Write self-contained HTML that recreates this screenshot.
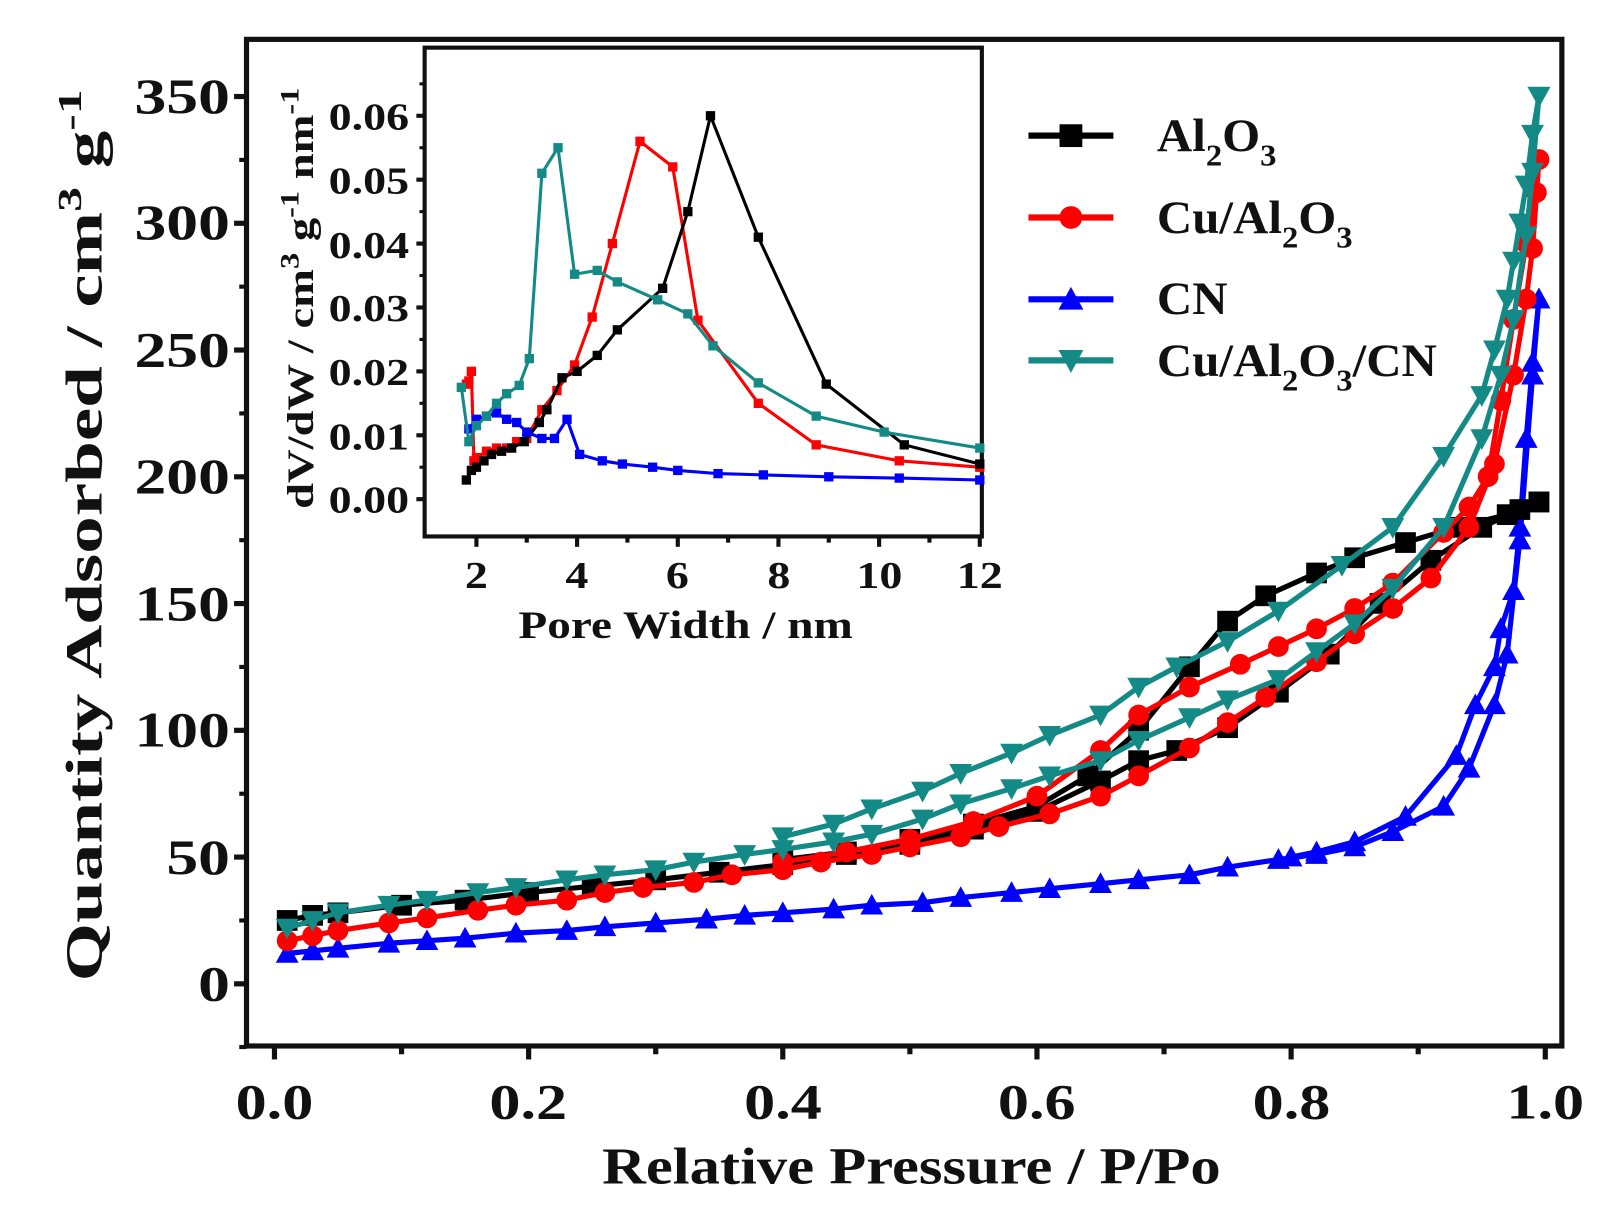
<!DOCTYPE html>
<html><head><meta charset="utf-8"><style>
html,body{margin:0;padding:0;background:#fff}
svg{display:block}
text{font-family:"Liberation Serif",serif;font-weight:bold;fill:#111}
</style></head><body>
<svg id="s" width="1624" height="1221" viewBox="0 0 1568 1179" preserveAspectRatio="none" xmlns="http://www.w3.org/2000/svg">
<rect width="1568" height="1179" fill="#fff"/>
<g id="g"></g>
<rect x="238" y="38" width="1270" height="972" fill="none" stroke="#111" stroke-width="5"/>
<g font-size="48" text-anchor="end">
<text class="k128" x="222" y="966">0</text><text class="k128" x="222" y="844">50</text><text class="k128" x="222" y="721">100</text>
<text class="k128" x="222" y="599">150</text><text class="k128" x="222" y="476">200</text><text class="k128" x="222" y="354">250</text>
<text class="k128" x="222" y="231">300</text><text class="k128" x="222" y="109">350</text>
</g>
<g font-size="48" text-anchor="middle">
<text class="k125" x="265" y="1080">0.0</text><text class="k125" x="510" y="1080">0.2</text><text class="k125" x="756" y="1080">0.4</text>
<text class="k125" x="1001" y="1080">0.6</text><text class="k125" x="1247" y="1080">0.8</text><text class="k125" x="1492" y="1080">1.0</text>
</g>
<text class="k117" x="880" y="1143" font-size="50" text-anchor="middle">Relative Pressure / P/Po</text>
<text class="k145" transform="translate(98,517) rotate(-90)" font-size="50" text-anchor="middle">Quantity Adsorbed / cm<tspan dy="-20" font-size="33">3</tspan><tspan dy="20"> g</tspan><tspan dy="-20" font-size="33">-1</tspan></text>
<g stroke-width="6">
<line x1="993" y1="131" x2="1075" y2="131" stroke="#000"/><rect x="1023" y="120" width="22" height="22" fill="#000"/>
<line x1="993" y1="210" x2="1075" y2="210" stroke="#f00"/><circle cx="1034" cy="210" r="11" fill="#f00"/>
<line x1="993" y1="289" x2="1075" y2="289" stroke="#00f"/><polygon points="1034,277 1046,299 1022,299" fill="#00f"/>
<line x1="993" y1="348" x2="1075" y2="348" stroke="#138a86"/><polygon points="1022,338 1046,338 1034,360" fill="#138a86"/>
</g>
<g font-size="45">
<text class="k105" x="1117" y="146">Al<tspan dy="14" font-size="30">2</tspan><tspan dy="-14">O</tspan><tspan dy="14" font-size="30">3</tspan></text>
<text class="k105" x="1117" y="225">Cu/Al<tspan dy="14" font-size="30">2</tspan><tspan dy="-14">O</tspan><tspan dy="14" font-size="30">3</tspan></text>
<text class="k105" x="1117" y="303">CN</text>
<text class="k105" x="1117" y="363">Cu/Al<tspan dy="14" font-size="30">2</tspan><tspan dy="-14">O</tspan><tspan dy="14" font-size="30">3</tspan><tspan dy="-14">/CN</tspan></text>
</g>
<rect x="410" y="46" width="538" height="472" fill="#fff" stroke="#111" stroke-width="4"/>
<g id="gi"></g>
<g font-size="37" text-anchor="end">
<text class="k120" x="395" y="495">0.00</text><text class="k120" x="395" y="434">0.01</text><text class="k120" x="395" y="372">0.02</text>
<text class="k120" x="395" y="310">0.03</text><text class="k120" x="395" y="249">0.04</text><text class="k120" x="395" y="187">0.05</text><text class="k120" x="395" y="125">0.06</text>
</g>
<g font-size="37" text-anchor="middle">
<text class="k120" x="460" y="568">2</text><text class="k120" x="557" y="568">4</text><text class="k120" x="654" y="568">6</text>
<text class="k120" x="752" y="568">8</text><text class="k120" x="849" y="568">10</text><text class="k120" x="946" y="568">12</text>
</g>
<text class="k120" x="662" y="616" font-size="38" text-anchor="middle">Pore Width / nm</text>
<text class="k125" transform="translate(302,288) rotate(-90)" font-size="36" text-anchor="middle">dV/dW / cm<tspan dy="-14" font-size="25">3</tspan><tspan dy="14"> g</tspan><tspan dy="-14" font-size="25">-1</tspan><tspan dy="14"> nm</tspan><tspan dy="-14" font-size="25">-1</tspan></text>
</svg>
<script>
const NS="http://www.w3.org/2000/svg";
function el(p,t,a){const e=document.createElementNS(NS,t);for(const k in a)e.setAttribute(k,a[k]);p.appendChild(e);return e;}
const g=document.getElementById('g'),gi=document.getElementById('gi');
for(let i=0;i<=7;i++){let y=950-122.4*i;el(g,'line',{x1:226,y1:y,x2:238,y2:y,stroke:'#111','stroke-width':5});
 if(i<7){let y2=y-61.2;el(g,'line',{x1:231,y1:y2,x2:238,y2:y2,stroke:'#111','stroke-width':4});}}
el(g,'line',{x1:231,y1:1011,x2:238,y2:1011,stroke:'#111','stroke-width':4});
for(let i=0;i<=10;i++){let x=265+122.7*i;el(g,'line',{x1:x,y1:1010,x2:x,y2:(i%2==0?1023:1018),stroke:'#111','stroke-width':5});}
const X=p=>265+1227*p,Y=v=>950-2.449*v;
function marker(par,type,x,y,s,c){
 if(type=='sq')el(par,'rect',{x:x-s/2,y:y-s/2,width:s,height:s,fill:c});
 else if(type=='ci')el(par,'circle',{cx:x,cy:y,r:s/2,fill:c});
 else if(type=='up')el(par,'polygon',{points:`${x},${y-s*0.55} ${x+s*0.55},${y+s*0.45} ${x-s*0.55},${y+s*0.45}`,fill:c});
 else el(par,'polygon',{points:`${x-s*0.55},${y-s*0.45} ${x+s*0.55},${y-s*0.45} ${x},${y+s*0.55}`,fill:c});
}
function series(pts,c,type){
 el(g,'polyline',{points:pts.map(p=>X(p[0])+','+Y(p[1])).join(' '),fill:'none',stroke:c,'stroke-width':5,'stroke-linejoin':'round'});
 pts.forEach(p=>marker(g,type,X(p[0]),Y(p[1]),20,c));
}
const T='#138a86';
series([[0.01,12],[0.03,13],[0.05,14],[0.09,16],[0.12,17],[0.15,18],[0.19,20],[0.23,21],[0.26,22.5],[0.3,24],[0.34,25.5],[0.37,27],[0.4,28],[0.44,29.5],[0.47,31],[0.51,32],[0.54,34],[0.58,36],[0.61,37.5],[0.65,39.5],[0.68,41],[0.72,43],[0.75,46],[0.79,49],[0.82,51],[0.85,54],[0.88,60],[0.92,70],[0.94,85],[0.96,110],[0.97,130],[0.98,175],[0.99,240],[0.995,270]],'#00f','up');
series([[0.995,270],[0.99,245],[0.985,215],[0.98,180],[0.975,155],[0.965,140],[0.96,125],[0.945,110],[0.93,90],[0.89,66],[0.85,56],[0.82,52],[0.8,50]],'#00f','up');
series([[0.01,25],[0.03,27],[0.05,28],[0.1,31],[0.15,33],[0.2,36],[0.25,38.5],[0.3,41],[0.35,44],[0.4,47],[0.45,51],[0.5,55],[0.55,61],[0.6,68],[0.65,80],[0.68,88],[0.71,92],[0.75,101],[0.79,115],[0.83,130],[0.87,150],[0.91,167],[0.95,180],[0.98,187],[0.995,190]],'#000','sq');
series([[0.995,190],[0.97,185],[0.93,180],[0.89,174],[0.85,168],[0.82,162],[0.78,153],[0.75,143],[0.72,125],[0.68,100],[0.64,82],[0.6,70],[0.55,63],[0.5,57],[0.45,52],[0.4,49]],'#000','sq');
series([[0.01,17],[0.03,19],[0.05,21],[0.09,24],[0.12,26],[0.16,29],[0.19,31],[0.23,33],[0.26,36],[0.29,38],[0.33,40],[0.36,43],[0.4,45],[0.43,48],[0.47,51],[0.5,54],[0.54,58],[0.57,62],[0.61,67],[0.65,74],[0.68,82],[0.72,93],[0.75,103],[0.78,113],[0.82,127],[0.85,138],[0.88,148],[0.91,160],[0.94,180],[0.96,205],[0.975,240],[0.985,270],[0.99,290],[0.995,325]],'#f00','ci');
series([[0.995,325],[0.993,312],[0.985,292],[0.975,262],[0.965,230],[0.955,200],[0.94,188],[0.92,178],[0.88,158],[0.85,148],[0.82,140],[0.79,133],[0.76,126],[0.72,117],[0.68,106],[0.65,92],[0.6,74],[0.55,64],[0.5,57],[0.45,52],[0.4,48]],'#f00','ci');
series([[0.01,22],[0.03,25],[0.05,28],[0.09,31],[0.12,33],[0.16,36],[0.19,38],[0.23,41],[0.26,43],[0.3,45],[0.33,48],[0.37,51],[0.4,53],[0.44,56],[0.47,59],[0.51,65],[0.54,71],[0.58,77],[0.61,82],[0.65,88],[0.68,96],[0.72,105],[0.75,112],[0.79,120],[0.82,131],[0.85,142],[0.88,156],[0.92,180],[0.95,215],[0.965,240],[0.975,262],[0.985,295],[0.99,320],[0.995,350]],T,'dn');
series([[0.995,350],[0.99,335],[0.985,315],[0.98,300],[0.975,285],[0.97,270],[0.96,250],[0.95,232],[0.92,208],[0.88,180],[0.84,165],[0.79,147],[0.75,135],[0.71,125],[0.68,117],[0.65,106],[0.61,98],[0.58,91],[0.54,83],[0.51,76],[0.47,69],[0.44,63],[0.4,58]],T,'dn');
const x=w=>460+48.6*(w-2),y=d=>482-6170*d;
for(let i=0;i<=6;i++){let yy=482-61.7*i;el(gi,'line',{x1:402,y1:yy,x2:410,y2:yy,stroke:'#111','stroke-width':4});el(gi,'line',{x1:405,y1:yy-30.85,x2:410,y2:yy-30.85,stroke:'#111','stroke-width':3});}
for(let w=2;w<=12;w++){el(gi,'line',{x1:x(w),y1:518,x2:x(w),y2:(w%2==0?528:524),stroke:'#111','stroke-width':4});}
function ser2(pts,c){
 el(gi,'polyline',{points:pts.map(p=>x(p[0])+','+y(p[1])).join(' '),fill:'none',stroke:c,'stroke-width':3});
 pts.forEach(p=>marker(gi,'sq',x(p[0]),y(p[1]),9,c));
}
ser2([[1.8,.018],[1.85,.0185],[1.9,.02],[1.95,.006],[2.0,.0065],[2.2,.0075],[2.4,.008],[2.6,.008],[2.8,.009],[3.0,.0095],[3.3,.014],[3.6,.017],[3.95,.021],[4.3,.0285],[4.7,.040],[5.25,.056],[5.9,.052],[6.4,.028],[7.6,.015],[8.75,.0085],[10.4,.006],[12,.005]],'#f00');
ser2([[1.8,.003],[1.9,.0045],[2.0,.005],[2.15,.006],[2.3,.007],[2.5,.0075],[2.7,.008],[2.95,.009],[3.25,.012],[3.4,.014],[3.7,.019],[4.0,.020],[4.4,.0225],[4.8,.0265],[5.7,.033],[6.2,.045],[6.65,.060],[7.6,.041],[8.95,.018],[10.5,.0085],[12,.0055]],'#000');
ser2([[1.85,.011],[2.0,.0125],[2.2,.013],[2.4,.0135],[2.6,.0125],[2.8,.012],[3.0,.0105],[3.3,.0095],[3.55,.0095],[3.8,.0125],[4.05,.007],[4.5,.006],[4.9,.0055],[5.5,.005],[6.0,.0045],[6.8,.004],[7.7,.0038],[9.0,.0035],[10.4,.0033],[12,.003]],'#00f');
ser2([[1.7,.0175],[1.85,.009],[2.0,.0115],[2.2,.013],[2.4,.015],[2.6,.0165],[2.85,.0178],[3.05,.022],[3.3,.051],[3.62,.055],[3.95,.0352],[4.4,.0358],[4.8,.034],[5.6,.0312],[6.2,.029],[6.7,.024],[7.6,.0182],[8.75,.013],[10.1,.0105],[12,.008]],T);
// horizontal stretching of text
document.querySelectorAll('text').forEach(t=>{
 const m=(t.getAttribute('class')||'').match(/k(\d+)/); if(!m)return;
 const f=parseInt(m[1])/100;
 const ax=t.hasAttribute('x')?parseFloat(t.getAttribute('x')):0;
 const tr=t.getAttribute('transform')||'';
 t.setAttribute('transform',tr+` translate(${ax},0) scale(${f},1) translate(${-ax},0)`);
});
</script>
</body></html>
